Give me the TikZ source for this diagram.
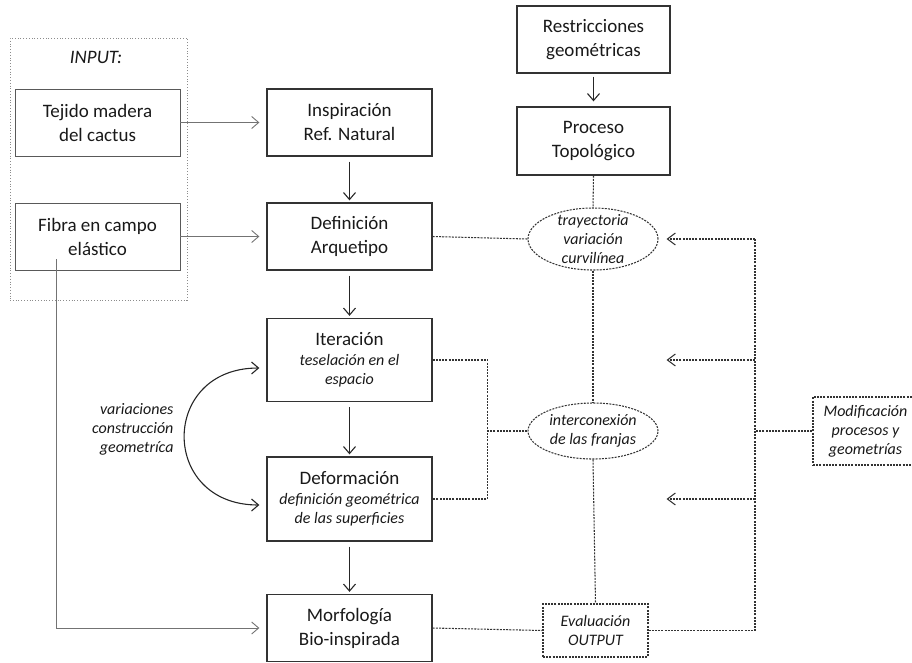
\documentclass[tikz,border=0pt]{standalone}
\usepackage{fontspec}
\setmainfont{Carlito}
\usetikzlibrary{arrows.meta,shapes.geometric}

\newcommand{\subtxt}[1]{{\fontsize{16}{19}\selectfont\itshape #1}}

\tikzset{
  procbox/.style={draw=black!80, line width=1.3pt, text=black!90, align=center,
    minimum width=165pt, minimum height=67pt, inner sep=2pt,
    font=\fontsize{19}{24}\selectfont},
  inbox/.style={procbox, draw=black!65, line width=0.9pt},
  dotline/.style={black!80, line width=1.05pt, dash pattern=on 2pt off 1.2pt},
  dotbox/.style={dotline, draw, text=black!90, align=center, inner sep=0pt,
    font=\fontsize{16}{19}\selectfont\itshape},
  dotell/.style={dotline, draw, ellipse, minimum width=130pt, inner sep=0pt},
  ittext/.style={text=black!90, align=center, font=\fontsize{16}{19}\selectfont\itshape},
  flow/.style={black!85, line width=1.1pt, -{Straight Barb[length=7pt,width=12pt]}},
  feed/.style={black!55, line width=0.9pt, -{Straight Barb[length=7pt,width=12pt]}},
  dotarrow/.style={dotline, -{Straight Barb[length=8pt,width=12pt]}}
}

\begin{document}
\begin{tikzpicture}[x=1pt, y=-1pt]

  \useasboundingbox (0,0) rectangle (912,662);

  \def \colL {97.5}
  \def \colM {349.5}
  \def \colR {593}

  % Input frame
  \node[draw=black!45, dotted, line width=0.8pt, minimum width=177pt, minimum height=262pt]
  (inframe) at (98.5,169) {};
  \node[text=black!90, font=\fontsize{19}{24}\selectfont\itshape] (inlbl) at (96,57) {INPUT:};

  % Input boxes
  \node[inbox] (tejido) at (\colL,122.5) {Tejido madera\\del cactus};
  \node[inbox] (fibra)  at (\colL,236.5) {Fibra en campo\\elástico};

  % Main column
  \node[procbox] (insp) at (\colM,122.5) {Inspiración\\Ref. Natural};
  \node[procbox] (defi) at (\colM,236.5) {Definición\\Arquetipo};
  \node[procbox, minimum height=83pt] (iter) at (\colM,360)
  {Iteración\\[-4pt]\subtxt{teselación en el}\\[-5pt]\subtxt{espacio}};
  \node[procbox, minimum height=84pt] (defo) at (\colM,499)
  {Deformación\\[-4pt]\subtxt{definición geométrica}\\[-5pt]\subtxt{de las superficies}};
  \node[procbox] (morf) at (\colM,628) {Morfología\\Bio-inspirada};

  % Right column
  \node[procbox, minimum width=153pt] (restr) at (\colR+0.5,39.5) {Restricciones\\geométricas};
  \node[procbox, minimum width=153pt, minimum height=68pt] (proc) at (\colR+0.5,141) {Proceso\\Topológico};

  \node[dotell, minimum height=62pt] (traj) at (\colR,239) {};
  \node[ittext] (trajtxt) at (traj) {trayectoria\\variación\\curvilínea};
  \node[dotell, minimum height=56pt] (inter) at (\colR,431) {};
  \node[ittext] (intertxt) at (inter) {interconexión\\de las franjas};

  \node[dotbox, minimum width=105pt, minimum height=53pt] (eval) at (595.5,630.5) {Evaluación\\OUTPUT};
  \node[dotbox, minimum width=105pt, minimum height=68pt] (modif) at (865.5,431)
  {Modificación\\procesos y\\geometrías};

  % Curved variation arrow
  \node[ittext, anchor=east, align=right] (varlbl) at (177,429)
  {variaciones\\construcción\\geometríca};

  % LINES
  \draw[feed, shorten >=7pt] (tejido.east) -- (insp.west);
  \draw[feed, shorten >=7pt] (fibra.east) -- (defi.west);
  \coordinate (fibdrop) at ([xshift=-41.5pt, yshift=11pt]fibra.south);
  \draw[feed, shorten >=7pt] (fibdrop) |- (morf.west);

  \draw[flow, shorten <=5pt, shorten >=2pt] (insp.south) -- (defi.north);
  \draw[flow, shorten <=5pt, shorten >=2pt] (defi.south) -- (iter.north);
  \draw[flow, shorten <=5pt, shorten >=2pt] (iter.south) -- (defo.north);
  \draw[flow, shorten <=5pt, shorten >=2pt] (defo.south) -- (morf.north);
  \draw[flow, shorten <=3pt, shorten >=5pt] (restr.south) -- (proc.north);

  \draw[flow, {Straight Barb[length=7pt,width=12pt]}-{Straight Barb[length=7pt,width=12pt]},
  shorten <=7pt, shorten >=7pt]
  ([yshift=-8pt]iter.west) to[out=180, in=180, looseness=2] ([yshift=-6pt]defo.west);

  % Dotted links
  \draw[dotline] (proc.south) -- (traj.north);
  \draw[dotline] (defi.east) -- (traj.west);
  \draw[dotline] (traj.south) -- (inter.north);
  \draw[dotline] (inter.south) -- (eval.north);
  \draw[dotline] (morf.east) -- (eval.west);

  \coordinate (fork) at ([xshift=55pt]iter.east);
  \draw[dotline] (iter.east) -- (fork) |- (defo.east);
  \draw[dotline] (inter.west) -- (inter.west -| fork);

  % Feedback loop
  \coordinate (fbtop) at (755,239);
  \coordinate (tipcol) at ([xshift=8pt]traj.east);
  \draw[dotline] (eval.east) -| (fbtop);
  \draw[dotarrow] (fbtop) -- (tipcol);
  \draw[dotarrow] (fbtop |- iter.east) -- (tipcol |- iter.east);
  \draw[dotarrow] (fbtop |- defo.east) -- (tipcol |- defo.east);
  \draw[dotline] (modif.west) -- (modif.west -| fbtop);

\end{tikzpicture}
\end{document}
